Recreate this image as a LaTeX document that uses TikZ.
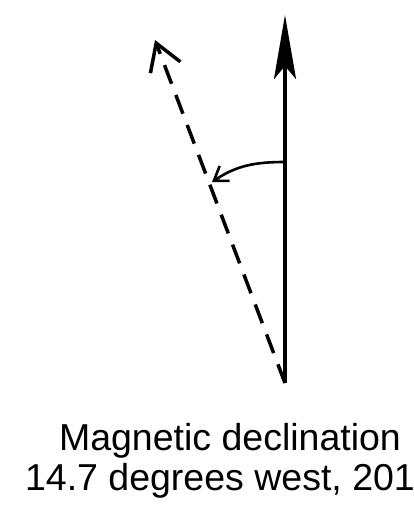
\documentclass[tikz,border=0pt]{standalone}
\usepackage{fontspec}
\setmainfont{Liberation Sans}
\usetikzlibrary{arrows.meta, positioning}
\tikzset{
  % nord geografico
  truenorth/.style={line width=3.5pt, -{Stealth[length=64pt, width=22pt, inset=13pt]}},
  % nord magnetico
  magnorth/.style={line width=3.5pt, dash pattern=on 20pt off 12pt,
    -{Straight Barb[length=26pt, width=32pt]}},
  % angolo di declinazione
  declarc/.style={line width=2.6pt, -{Straight Barb[length=13pt, width=18pt]}},
  % didascalia
  caption/.style={font=\fontsize{37.5}{40}\selectfont, inner sep=0pt},
}
\begin{document}
\begin{tikzpicture}[x=1pt, y=-1pt]
  \useasboundingbox (0,0) rectangle (414,525);
  \coordinate (base) at (285,383);
  \coordinate (geo) at (285,15);
  \coordinate (mag) at (155,40);
  \coordinate (arcstart) at (285,162);
  \coordinate (arcend) at (212,182);
  \draw[truenorth] (base) -- (geo);
  \draw[magnorth] (base) -- (mag);
  \draw[declarc] (arcstart) to[out=180, in=34] (arcend);
  \node[caption, anchor=base] (title) at (230,450) {Magnetic declination};
  \node[caption, anchor=base] (year) at (220,490) {14.7 degrees west, 201};
\end{tikzpicture}
\end{document}
